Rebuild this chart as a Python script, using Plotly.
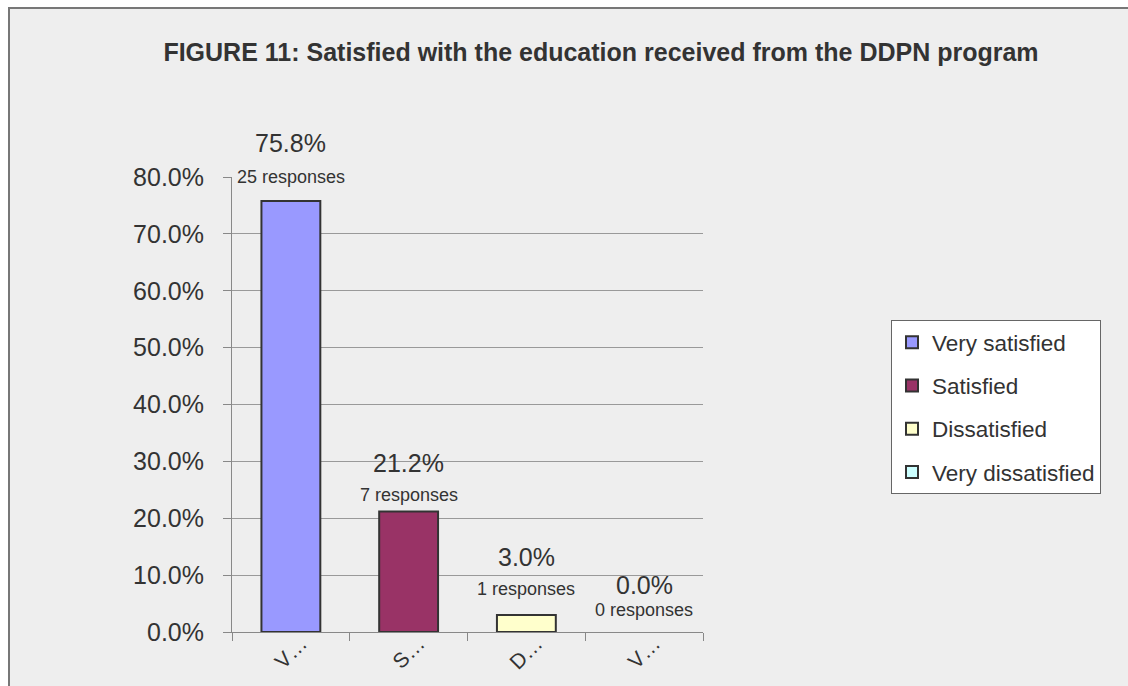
import plotly.graph_objects as go

categories = ["Very satisfied", "Satisfied", "Dissatisfied", "Very dissatisfied"]
short_labels = ["V\u2026", "S\u2026", "D\u2026", "V\u2026"]
percentages = [75.8, 21.2, 3.0, 0.0]
responses = [25, 7, 1, 0]

colors = ["#9999FF", "#993366", "#FFFFCC", "#CCFFFF"]
pct_shift = [58, 48, 58, 47]
resp_shift = [24, 16, 26, 22]

W, H = 1128, 686
L, R, T, B = 232, 425, 177, 54
pw, ph = W - L - R, H - T - B

def px(x):
    return (x - L) / pw

def py(y):
    return (H - B - y) / ph

fig = go.Figure()
for i, c in enumerate(categories):
    v = percentages[i]
    fig.add_trace(go.Bar(
        x=[c], y=[v if v > 0 else None], name=c, width=0.5,
        legendgroup=c,
        marker=dict(color=colors[i], line=dict(color="#333333", width=2)),
        hoverinfo="skip",
    ))
    fig.add_annotation(x=c, y=v, text=f"{v:.1f}%",
                       showarrow=False, yshift=pct_shift[i], yanchor="middle",
                       font=dict(size=25, color="#333333"))
    fig.add_annotation(x=c, y=v, text=f"{responses[i]} responses",
                       showarrow=False, yshift=resp_shift[i], yanchor="middle",
                       font=dict(size=18, color="#333333"))

fig.add_shape(type="rect", xref="paper", yref="paper",
              x0=px(9), x1=px(1160), y0=py(720), y1=py(8),
              fillcolor="#EEEEEE", line=dict(color="#777777", width=2), layer="below")

fig.update_layout(
    width=W, height=H,
    margin=dict(l=L, r=R, t=T, b=B, autoexpand=False),
    paper_bgcolor="#FFFFFF",
    plot_bgcolor="rgba(0,0,0,0)",
    barmode="overlay",
    font=dict(family="Liberation Sans, Arial, sans-serif", color="#333333"),
    title=dict(text="<b>FIGURE 11: Satisfied with the education received from the DDPN program</b>",
               x=px(601), xref="paper", xanchor="center",
               y=1 - 52 / H, yref="container", yanchor="middle",
               font=dict(size=25, color="#333333")),
    legend=dict(x=px(891), y=py(320), xanchor="left", yanchor="top",
                bgcolor="#FFFFFF", bordercolor="#666666", borderwidth=1,
                font=dict(size=22.5, color="#333333"),
                traceorder="grouped", tracegroupgap=11),
    xaxis=dict(type="category", categoryorder="array", categoryarray=categories,
               tickmode="array", tickvals=categories, ticktext=short_labels,
               tickson="boundaries", ticks="outside", ticklen=8, tickcolor="#888888",
               showline=True, linecolor="#888888", linewidth=1,
               showgrid=False, tickangle=-45, automargin=False,
               ticklabelstandoff=-10, ticklabelshift=10,
               tickfont=dict(size=21, color="#333333")),
    yaxis=dict(range=[0, 80], dtick=10, tickformat=".1f", ticksuffix="%",
               ticks="outside", ticklen=8, tickcolor="#888888",
               showline=True, linecolor="#888888", linewidth=1,
               showgrid=True, gridcolor="#999999", gridwidth=1,
               zeroline=False, ticklabelstandoff=14, automargin=False,
               tickfont=dict(size=25, color="#333333")),
)

fig.write_html("out.html")
